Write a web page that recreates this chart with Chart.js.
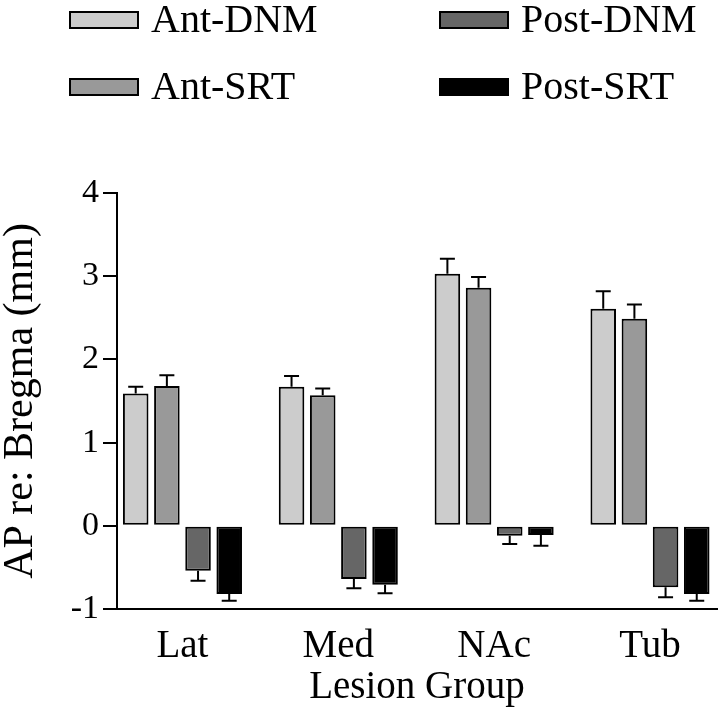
<!DOCTYPE html>
<html>
<head>
<meta charset="utf-8">
<script src="https://cdn.jsdelivr.net/npm/chart.js@4"></script>
<style>
  body { margin: 0; background: #fff; }
</style>
</head>
<body>
<canvas id="apChart" width="720" height="713"></canvas>
<script>
const groups = ['Lat', 'Med', 'NAc', 'Tub'];
const seriesNames = ['Ant-DNM', 'Ant-SRT', 'Post-DNM', 'Post-SRT'];
const antDNM = [1.59, 1.67, 3.03, 2.61];
const antDNMErr = [0.08, 0.13, 0.18, 0.21];
const antSRT = [1.68, 1.57, 2.86, 2.49];
const antSRTErr = [0.13, 0.08, 0.13, 0.17];
const postDNM = [-0.54, -0.64, -0.12, -0.74];
const postDNMErr = [0.12, 0.11, 0.10, 0.12];
const postSRT = [-0.82, -0.71, -0.11, -0.82];
const postSRTErr = [0.08, 0.10, 0.13, 0.08];
const yTicks = [-1, 0, 1, 2, 3, 4];

const fills = ['#cccccc', '#999999', '#666666', '#000000'];
const font = 'Liberation Serif';

// error bars, drawn off the bar ends
const errorBars = {
  id: 'errorBars',
  afterDatasetsDraw(chart) {
    const ctx = chart.ctx;
    const y = chart.scales.y;
    ctx.save();
    ctx.strokeStyle = '#000';
    ctx.lineWidth = 2;
    chart.data.datasets.forEach((ds, i) => {
      const meta = chart.getDatasetMeta(i);
      meta.data.forEach((bar, j) => {
        const v = ds.data[j];
        const e = ds.errors[j];
        const end = y.getPixelForValue(v >= 0 ? v + e : v - e);
        ctx.beginPath();
        ctx.moveTo(bar.x, bar.y);
        ctx.lineTo(bar.x, end);
        ctx.moveTo(bar.x - 7.5, end);
        ctx.lineTo(bar.x + 7.5, end);
        ctx.stroke();
      });
    });
    ctx.restore();
  }
};

// 2x2 legend at the top
const gridLegend = {
  id: 'gridLegend',
  afterDraw(chart) {
    const ctx = chart.ctx;
    const cols = [70, 440];
    const rows = [20, 87];
    const order = [[0, 0, 0], [1, 0, 1], [2, 1, 0], [3, 1, 1]];
    ctx.save();
    ctx.font = '40px "' + font + '"';
    ctx.textBaseline = 'middle';
    order.forEach(([i, c, r]) => {
      const ds = chart.data.datasets[i];
      const x = cols[c], yc = rows[r];
      ctx.fillStyle = ds.backgroundColor;
      ctx.fillRect(x, yc - 8, 68, 16);
      ctx.strokeStyle = '#000';
      ctx.lineWidth = 2;
      ctx.strokeRect(x, yc - 8, 68, 16);
      ctx.fillStyle = '#000';
      ctx.fillText(ds.label, x + 81, yc + 1);
    });
    ctx.restore();
  }
};

const allData = [antDNM, antSRT, postDNM, postSRT];
const allErr = [antDNMErr, antSRTErr, postDNMErr, postSRTErr];

new Chart(document.getElementById('apChart'), {
  type: 'bar',
  data: {
    labels: groups,
    datasets: seriesNames.map((name, i) => ({
      label: name,
      data: allData[i],
      errors: allErr[i],
      backgroundColor: fills[i],
      borderColor: '#000',
      borderWidth: 2,
      borderSkipped: false,
      categoryPercentage: 0.8,
      barPercentage: 0.82
    }))
  },
  options: {
    responsive: false,
    animation: false,
    layout: { padding: { top: 193, right: 3, left: 0, bottom: 0 } },
    plugins: {
      legend: { display: false },
      tooltip: { enabled: false }
    },
    scales: {
      x: {
        afterFit(scale) { scale.height = 104; },
        afterBuildTicks(scale) {
          // groups sit closer to the y axis than a plain offset would put them
          scale._startValue = -0.42;
          scale._valueRange = 3.85;
        },
        grid: { display: false },
        border: { display: true, color: '#000', width: 2 },
        ticks: {
          color: '#000',
          font: { family: font, size: 39 },
          padding: 6,
          maxRotation: 0,
          autoSkip: false
        },
        title: {
          display: true,
          text: 'Lesion Group',
          color: '#000',
          font: { family: font, size: 39, lineHeight: 1 },
          padding: { top: 0, bottom: 6 }
        }
      },
      y: {
        min: -1,
        max: 4,
        afterFit(scale) { scale.width = 117; },
        afterBuildTicks(scale) { scale.ticks = yTicks.map(v => ({ value: v })); },
        grid: {
          display: true,
          drawOnChartArea: false,
          drawTicks: true,
          tickLength: 14,
          color: '#000',
          lineWidth: 2
        },
        border: { display: true, color: '#000', width: 2 },
        ticks: {
          color: '#000',
          font: { family: font, size: 34 },
          padding: 4
        },
        title: {
          display: true,
          text: 'AP re: Bregma (mm)',
          color: '#000',
          font: { family: font, size: 42, lineHeight: 1 },
          padding: { top: 0, bottom: 0 }
        }
      }
    }
  },
  plugins: [errorBars, gridLegend]
});
</script>
</body>
</html>
